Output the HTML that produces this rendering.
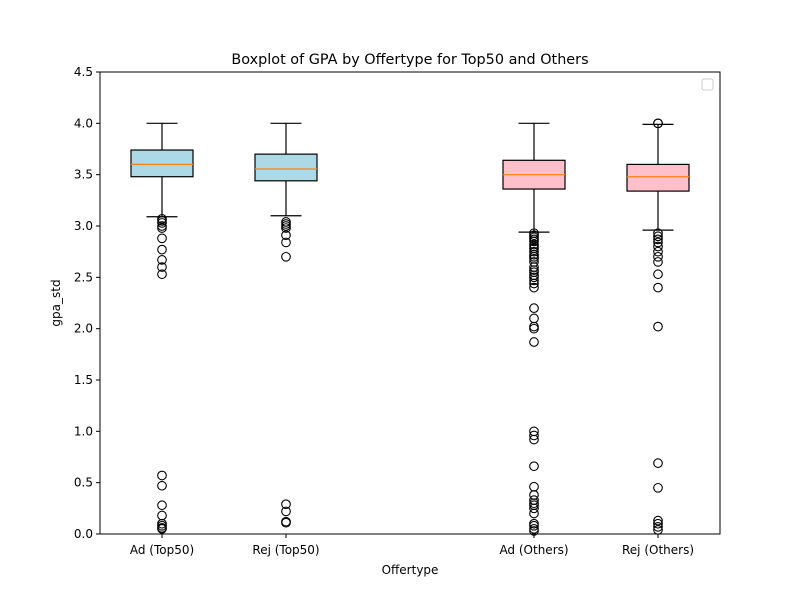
<!DOCTYPE html>
<html><head><meta charset="utf-8"><style>
body{margin:0;background:#fff;font-family:"Liberation Sans","DejaVu Sans",sans-serif;}
svg text{font-family:"DejaVu Sans","Liberation Sans",sans-serif;}
</style></head><body>
<svg id="chart" width="800" height="600" xmlns="http://www.w3.org/2000/svg"></svg>
<script>
const categories = ["Ad (Top50)","Rej (Top50)","Ad (Others)","Rej (Others)"];
const positions = [1,2,4,5];
const fills = ["#add8e6","#add8e6","#ffc0cb","#ffc0cb"];
const whiskerHigh = [4.0,4.0,4.0,3.99];
const q3 = [3.74,3.70,3.64,3.60];
const medians = [3.60,3.555,3.50,3.48];
const q1 = [3.48,3.44,3.36,3.34];
const whiskerLow = [3.09,3.10,2.94,2.96];
const outliers = [
 [3.07,3.05,3.03,3.0,2.98,2.88,2.77,2.67,2.6,2.53,0.57,0.47,0.28,0.18,0.1,0.08,0.06,0.05],
 [3.04,3.02,3.0,2.98,2.91,2.84,2.70,0.29,0.22,0.12,0.11],
 [2.93,2.91,2.89,2.87,2.85,2.82,2.8,2.78,2.75,2.72,2.7,2.68,2.65,2.6,2.57,2.55,2.52,2.5,2.47,2.44,2.4,2.2,2.1,2.02,2.0,1.87,1.0,0.96,0.92,0.66,0.46,0.38,0.33,0.3,0.28,0.25,0.2,0.1,0.08,0.05,0.03],
 [4.0,4.0,2.93,2.9,2.87,2.84,2.8,2.75,2.7,2.65,2.53,2.4,2.02,0.69,0.45,0.13,0.1,0.07,0.04]
];
const yTicks = [0,0.5,1,1.5,2,2.5,3,3.5,4,4.5];
const yTickLabels = ["0.0","0.5","1.0","1.5","2.0","2.5","3.0","3.5","4.0","4.5"];

const L=100,R=720,T=72,B=534;
const xs=v=>L+(v-0.5)/5*(R-L);
const ys=v=>B-v/4.5*(B-T);
const svg=document.getElementById('chart');
const NS="http://www.w3.org/2000/svg";
function mk(tag,attrs,parent){const e=document.createElementNS(NS,tag);for(const k in attrs)e.setAttribute(k,attrs[k]);(parent||svg).appendChild(e);return e;}

categories.forEach((c,i)=>{
  const g=mk('g',{});
  
  
  const x=xs(positions[i]), hw=0.25*124, cw=0.125*124;
  mk('line',{x1:x,x2:x,y1:ys(q3[i]),y2:ys(whiskerHigh[i]),stroke:'#000','stroke-width':1.2},g);
  mk('line',{x1:x,x2:x,y1:ys(q1[i]),y2:ys(whiskerLow[i]),stroke:'#000','stroke-width':1.2},g);
  mk('line',{x1:x-cw,x2:x+cw,y1:ys(whiskerHigh[i]),y2:ys(whiskerHigh[i]),stroke:'#000','stroke-width':1.2},g);
  mk('line',{x1:x-cw,x2:x+cw,y1:ys(whiskerLow[i]),y2:ys(whiskerLow[i]),stroke:'#000','stroke-width':1.2},g);
  mk('rect',{x:x-hw,y:ys(q3[i]),width:2*hw,height:ys(q1[i])-ys(q3[i]),fill:fills[i],stroke:'#000','stroke-width':1.2},g);
  mk('line',{x1:x-hw,x2:x+hw,y1:ys(medians[i]),y2:ys(medians[i]),stroke:'#ff7f0e','stroke-width':1.2},g);
  outliers[i].forEach(v=>{
    mk('circle',{cx:x,cy:ys(v),r:4.3,fill:'none',stroke:'#000','stroke-width':1.1},g);
  });
});

// axes frame
const frame=mk('rect',{x:L,y:T,width:R-L,height:B-T,fill:'none',stroke:'#000','stroke-width':1});



yTicks.forEach((v,i)=>{
  mk('line',{x1:L-4,x2:L,y1:ys(v),y2:ys(v),stroke:'#000'});
  const t=mk('text',{x:L-7,y:ys(v)+4,'text-anchor':'end','font-size':'12',fill:'#000'});
  t.textContent=yTickLabels[i];
  
  
});
categories.forEach((c,i)=>{
  const x=xs(positions[i]);
  mk('line',{x1:x,x2:x,y1:B,y2:B+4,stroke:'#000'});
  const t=mk('text',{x:x,y:B+20,'text-anchor':'middle','font-size':'12',fill:'#000'});
  t.textContent=c;
  
  
});

const title=mk('text',{x:410,y:64,'text-anchor':'middle','font-size':'14.4',fill:'#000'});
title.textContent="Boxplot of GPA by Offertype for Top50 and Others";



const xl=mk('text',{x:410,y:574,'text-anchor':'middle','font-size':'12',fill:'#000'});
xl.textContent="Offertype";



const yl=mk('text',{x:0,y:0,'text-anchor':'middle','font-size':'12',fill:'#000',transform:'translate(60,303) rotate(-90)'});
yl.textContent="gpa_std";



const lg=mk('rect',{x:702,y:79,width:11,height:11,rx:2,fill:'#fff',stroke:'#ccc','stroke-width':1});


</script>
</body></html>
